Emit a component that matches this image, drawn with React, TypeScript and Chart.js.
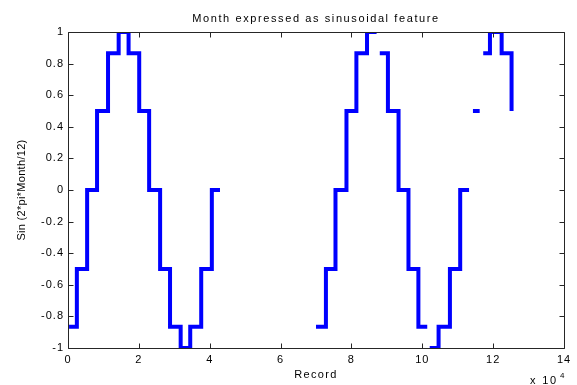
import { useEffect, useRef } from 'react';
import { Chart, registerables } from 'chart.js';

Chart.register(...registerables);

const TITLE = 'Month expressed as sinusoidal feature';
const X_TITLE = 'Record';
const Y_TITLE = 'Sin (2*pi*Month/12)';
const X_EXPONENT_BASE = 'x 10';
const X_EXPONENT = '4';

const X_TICKS = [0, 20000, 40000, 60000, 80000, 100000, 120000, 140000];
const Y_TICKS = [-1, -0.8, -0.6, -0.4, -0.2, 0, 0.2, 0.4, 0.6, 0.8, 1];

// Each run: record where every monthly level starts, closed by the run's last record,
// and the sin(2*pi*Month/12) level held over that span.
const run1Records = [300, 2500, 5400, 8200, 11300, 14300, 17100, 20100, 22900, 26000, 28800, 31800, 34500, 37600, 40600, 42900];
const run1Values = [-0.866, -0.5, 0, 0.5, 0.866, 1, 0.866, 0.5, 0, -0.5, -0.866, -1, -0.866, -0.5, 0];
const run2Records = [70000, 72800, 75500, 78600, 81400, 84400, 87100];
const run2Values = [-0.866, -0.5, 0, 0.5, 0.866, 1];
const run3Records = [88000, 90300, 93300, 96100, 98900, 101400];
const run3Values = [0.866, 0.5, 0, -0.5, -0.866];
const run4Records = [102100, 104600, 107800, 110700, 113200];
const run4Values = [-1, -0.866, -0.5, 0];
const run5Records = [114300, 116200];
const run5Values = [0.5];
const run6Records = [117200, 119100, 122400, 125200, 125200];
const run6Values = [0.866, 1, 0.866, 0.5];

const RUNS: [number[], number[]][] = [
  [run1Records, run1Values],
  [run2Records, run2Values],
  [run3Records, run3Values],
  [run4Records, run4Values],
  [run5Records, run5Values],
  [run6Records, run6Values],
];

// Step line: each level is held flat from its start record to the next one;
// a null point separates runs so the line breaks between them.
function buildPoints() {
  const pts: { x: number; y: number | null }[] = [];
  RUNS.forEach(([records, values], r) => {
    if (r > 0) pts.push({ x: records[0] - 1, y: null });
    values.forEach((v, i) => {
      pts.push({ x: records[i], y: v });
      pts.push({ x: records[i + 1], y: v });
    });
  });
  return pts;
}

const FONT = '"Liberation Sans", Arial, sans-serif';
const AXIS_COLOR = '#262626';

const framePlugin = {
  id: 'matlabFrame',
  beforeDraw(chart: any) {
    chart.ctx.letterSpacing = '1px';
  },
  afterDraw(chart: any) {
    const { ctx, chartArea: a, scales } = chart;
    const xs = scales.x;
    const ys = scales.y;
    const L = Math.round(a.left) + 0.5;
    const R = Math.round(a.right) + 0.5;
    const T = Math.round(a.top) + 0.5;
    const B = Math.round(a.bottom) + 0.5;
    ctx.save();
    ctx.strokeStyle = AXIS_COLOR;
    ctx.lineWidth = 1;
    ctx.beginPath();
    ctx.rect(L, T, R - L, B - T);
    const tl = 5;
    X_TICKS.forEach((v) => {
      const px = Math.round(xs.getPixelForValue(v)) + 0.5;
      ctx.moveTo(px, B);
      ctx.lineTo(px, B - tl);
      ctx.moveTo(px, T);
      ctx.lineTo(px, T + tl);
    });
    Y_TICKS.forEach((v) => {
      const py = Math.round(ys.getPixelForValue(v)) + 0.5;
      ctx.moveTo(L, py);
      ctx.lineTo(L + tl, py);
      ctx.moveTo(R, py);
      ctx.lineTo(R - tl, py);
    });
    ctx.stroke();

    ctx.fillStyle = '#000';
    const cx = (a.left + a.right) / 2;

    ctx.font = `11px ${FONT}`;
    ctx.textAlign = 'center';
    ctx.textBaseline = 'alphabetic';
    ctx.letterSpacing = '1.6px';
    ctx.fillText(TITLE, cx, 22);

    ctx.letterSpacing = '1.3px';
    ctx.fillText(X_TITLE, cx, 378);

    ctx.letterSpacing = '0.3px';
    ctx.save();
    ctx.translate(25, (a.top + a.bottom) / 2);
    ctx.rotate(-Math.PI / 2);
    ctx.fillText(Y_TITLE, 0, 0);
    ctx.restore();

    ctx.letterSpacing = '1.8px';
    ctx.textAlign = 'left';
    ctx.fillText(X_EXPONENT_BASE, 530, 384);
    ctx.font = `8px ${FONT}`;
    ctx.letterSpacing = '0px';
    ctx.fillText(X_EXPONENT, 560, 378);
    ctx.restore();
  },
};

export default function App() {
  const ref = useRef<HTMLCanvasElement>(null);

  useEffect(() => {
    const canvas = ref.current;
    if (!canvas) return;
    const tickFont = { family: FONT, size: 11 };
    const chart = new Chart(canvas, {
      type: 'line',
      data: {
        datasets: [
          {
            data: buildPoints() as any,
            borderColor: '#0000ff',
            borderWidth: 4,
            pointRadius: 0,
            pointHoverRadius: 0,
            fill: false,
            tension: 0,
            spanGaps: false,
            clip: 0,
            borderJoinStyle: 'miter',
            borderCapStyle: 'butt',
          },
        ],
      },
      options: {
        animation: false,
        responsive: false,
        events: [],
        layout: { padding: { top: 32, right: 13, bottom: 0, left: 0 } },
        plugins: {
          legend: { display: false },
          title: { display: false },
          tooltip: { enabled: false },
        },
        scales: {
          x: {
            type: 'linear',
            min: 0,
            max: 140000,
            grid: { display: false, drawTicks: false },
            border: { display: false },
            ticks: {
              font: tickFont,
              color: '#000',
              padding: 5,
              autoSkip: false,
              maxRotation: 0,
              callback: (v: any) => String(Number(v) / 10000),
            },
            afterBuildTicks: (s: any) => {
              s.ticks = X_TICKS.map((value) => ({ value }));
            },
            afterFit: (s: any) => {
              s.height = 37;
              s.paddingLeft = 0;
              s.paddingRight = 0;
            },
          },
          y: {
            type: 'linear',
            min: -1,
            max: 1,
            grid: { display: false, drawTicks: false },
            border: { display: false },
            ticks: {
              font: tickFont,
              color: '#000',
              padding: 4,
              autoSkip: false,
              callback: (v: any) => String(v),
            },
            afterBuildTicks: (s: any) => {
              s.ticks = Y_TICKS.map((value) => ({ value }));
            },
            afterFit: (s: any) => {
              s.width = 68;
              s.paddingTop = 0;
              s.paddingBottom = 0;
            },
          },
        },
      },
      plugins: [framePlugin],
    });
    return () => chart.destroy();
  }, []);

  return (
    <div style={{ position: 'fixed', left: 0, top: 0, width: 577, height: 385, background: '#fff' }}>
      <canvas ref={ref} width={577} height={385} />
    </div>
  );
}
